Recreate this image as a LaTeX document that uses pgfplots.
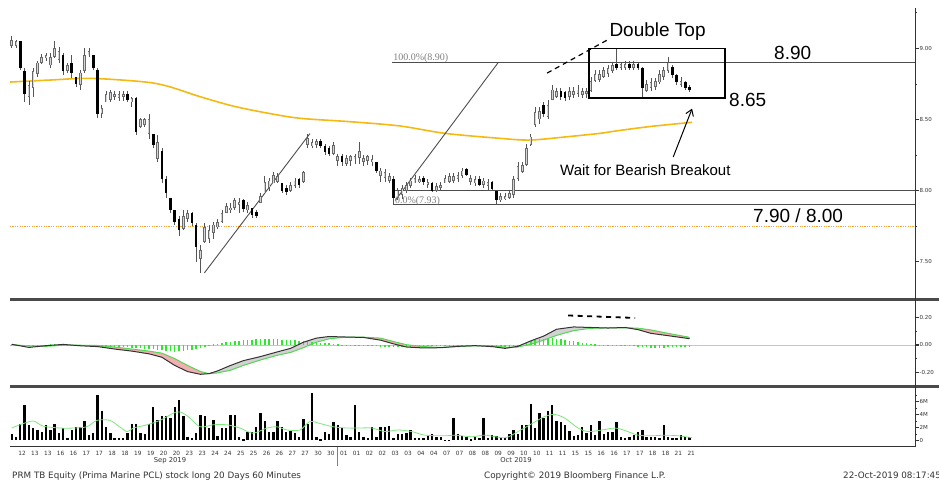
\documentclass[border=0pt]{standalone}
\usepackage{fontspec}
\setmainfont{Liberation Sans}
\newfontfamily\dv{DejaVu Sans}
\newfontfamily\lserif{Liberation Serif}
\usepackage{pgfplots}
\pgfplotsset{compat=1.18}
\usepackage{pgfplotstable}
\usetikzlibrary{arrows.meta}

\definecolor{maorange}{HTML}{F5B914}
\definecolor{dotorange}{HTML}{F2A33A}
\definecolor{upedge}{HTML}{6A6A6A}
\definecolor{upfill}{HTML}{D6D6D6}
\definecolor{wick}{HTML}{555555}
\definecolor{sepgray}{HTML}{4A4A4A}
\definecolor{histgreen}{HTML}{2EE82E}
\definecolor{siggreen}{HTML}{55D655}
\definecolor{vmagreen}{HTML}{7CE67C}
\definecolor{pinkfill}{HTML}{F2AFAF}
\definecolor{grayfill}{HTML}{D2D2D2}
\definecolor{linegray}{HTML}{4D4D4D}
\definecolor{labelc}{HTML}{333333}

\pgfplotstableread{
i o h l c v hist
0 9.02 9.09 9.00 9.06 0.9 0.003
1 9.02 9.06 9.00 9.05 0.55 0.002
2 9.05 9.05 8.85 8.86 2.6 -0.003
3 8.84 8.86 8.62 8.68 5.5 -0.004
4 8.66 8.77 8.60 8.74 2.4 -0.003
5 8.72 8.86 8.66 8.84 1.9 -0.002
6 8.82 8.91 8.80 8.90 1.6 0.002
7 8.90 8.96 8.89 8.94 1.35 0.003
8 8.93 8.97 8.91 8.95 2.4 0.003
9 8.88 8.97 8.86 8.94 1.6 0.004
10 8.94 9.05 8.93 9.00 2.5 0.004
11 8.92 9.01 8.90 8.98 1.1 0.003
12 8.95 8.97 8.81 8.84 1.9 0.003
13 8.84 8.90 8.83 8.88 0.4 0.002
14 8.90 8.95 8.79 8.83 1.6 0.002
15 8.80 8.80 8.73 8.75 2.0 0.001
16 8.74 8.85 8.71 8.83 2.1 0.001
17 8.84 9.00 8.83 8.95 3.0 0.002
18 8.95 9.00 8.94 8.98 0.8 0.001
19 8.95 8.95 8.85 8.86 1.1 -0.003
20 8.85 8.86 8.51 8.54 7.0 -0.006
21 8.54 8.60 8.51 8.58 4.5 -0.008
22 8.62 8.70 8.62 8.68 2.0 -0.010
23 8.64 8.71 8.62 8.69 1.1 -0.012
24 8.66 8.70 8.64 8.68 0.3 -0.014
25 8.65 8.70 8.63 8.68 0.35 -0.015
26 8.66 8.70 8.63 8.68 0.35 -0.016
27 8.68 8.70 8.62 8.64 1.1 -0.018
28 8.62 8.66 8.59 8.65 2.6 -0.020
29 8.65 8.66 8.39 8.41 2.6 -0.023
30 8.45 8.51 8.44 8.50 1.1 -0.025
31 8.46 8.51 8.45 8.50 0.9 -0.027
32 8.40 8.54 8.36 8.50 2.6 -0.030
33 8.40 8.40 8.30 8.32 5.2 -0.033
34 8.22 8.39 8.20 8.34 3.1 -0.036
35 8.28 8.30 8.05 8.08 3.8 -0.040
36 8.08 8.10 7.95 7.98 3.8 -0.044
37 7.95 7.95 7.84 7.86 3.4 -0.047
38 7.86 7.86 7.76 7.78 5.1 -0.048
39 7.80 7.82 7.68 7.72 6.2 -0.046
40 7.73 7.86 7.72 7.82 3.8 -0.043
41 7.80 7.86 7.78 7.84 0.55 -0.039
42 7.84 7.85 7.75 7.77 0.4 -0.034
43 7.76 7.77 7.50 7.60 1.1 -0.028
44 7.52 7.62 7.42 7.58 4.0 -0.020
45 7.64 7.77 7.63 7.74 3.7 -0.012
46 7.66 7.76 7.63 7.72 1.9 -0.004
47 7.70 7.78 7.66 7.76 3.1 0.004
48 7.74 7.80 7.73 7.78 0.7 0.010
49 7.78 7.86 7.77 7.84 1.9 0.015
50 7.84 7.91 7.84 7.89 1.9 0.020
51 7.86 7.91 7.84 7.88 4.0 0.024
52 7.88 7.95 7.86 7.93 3.9 0.028
53 7.90 7.95 7.84 7.92 0.55 0.031
54 7.93 7.94 7.85 7.87 0.2 0.034
55 7.86 7.92 7.84 7.90 1.35 0.036
56 7.88 7.88 7.81 7.83 1.35 0.038
57 7.85 7.86 7.81 7.82 2.0 0.040
58 7.91 7.98 7.91 7.96 4.2 0.041
59 7.98 8.10 7.98 8.06 3.0 0.042
60 8.02 8.09 8.00 8.07 1.35 0.042
61 8.05 8.13 8.05 8.11 1.35 0.041
62 8.06 8.12 8.05 8.10 3.0 0.040
63 8.05 8.05 7.98 8.00 2.0 0.039
64 8.02 8.04 7.97 7.99 1.35 0.037
65 8.00 8.06 7.99 8.04 1.45 0.035
66 8.03 8.09 8.02 8.07 1.1 0.033
67 8.08 8.09 8.02 8.04 0.55 0.031
68 8.06 8.14 8.05 8.13 3.3 0.029
69 8.32 8.40 8.30 8.37 2.6 0.027
70 8.31 8.36 8.30 8.34 7.4 0.024
71 8.32 8.36 8.30 8.35 0.55 0.021
72 8.35 8.36 8.30 8.31 0.2 0.018
73 8.31 8.33 8.25 8.27 1.35 0.014
74 8.30 8.31 8.24 8.26 0.9 0.011
75 8.26 8.34 8.25 8.32 2.8 0.008
76 8.21 8.26 8.17 8.24 2.4 0.005
77 8.24 8.26 8.17 8.20 1.9 0.003
78 8.19 8.25 8.17 8.23 0.8 0.002
79 8.21 8.25 8.17 8.24 0.55 0.001
80 8.22 8.26 8.19 8.24 5.5 0.002
81 8.23 8.34 8.19 8.28 1.35 0.001
82 8.20 8.25 8.17 8.23 0.55 -0.001
83 8.21 8.25 8.18 8.24 0.4 -0.002
84 8.20 8.25 8.17 8.22 2.1 -0.004
85 8.20 8.20 8.12 8.14 0.55 -0.006
86 8.10 8.16 8.06 8.14 2.0 -0.008
87 8.09 8.15 8.06 8.13 2.1 -0.010
88 8.07 8.12 8.05 8.10 2.2 -0.011
89 8.08 8.10 7.90 7.95 0.4 -0.012
90 7.95 8.02 7.93 8.00 0.9 -0.012
91 7.97 8.04 7.94 8.02 0.9 -0.011
92 8.00 8.06 7.98 8.04 1.1 -0.010
93 8.03 8.09 8.02 8.07 1.6 -0.008
94 8.05 8.11 8.05 8.09 0.3 -0.006
95 8.06 8.10 8.05 8.08 0.4 -0.005
96 8.09 8.10 8.04 8.06 0.4 -0.004
97 8.04 8.08 8.02 8.06 0.8 -0.003
98 8.05 8.06 7.99 8.00 0.9 -0.003
99 8.00 8.05 7.99 8.03 0.55 -0.002
100 8.02 8.06 8.00 8.04 0.55 -0.002
101 8.05 8.11 8.05 8.09 0.05 0.002
102 8.06 8.12 8.05 8.10 0.05 0.002
103 8.07 8.12 8.05 8.10 3.4 0.003
104 8.08 8.13 8.06 8.11 0.9 0.003
105 8.10 8.16 8.09 8.14 0.7 0.002
106 8.15 8.16 8.10 8.11 0.55 0.002
107 8.06 8.11 8.04 8.09 0.15 0.001
108 8.05 8.10 8.03 8.08 0.55 -0.002
109 8.08 8.10 8.03 8.04 0.3 -0.003
110 8.04 8.09 8.02 8.07 3.4 -0.004
111 8.03 8.08 8.00 8.06 0.4 -0.006
112 8.06 8.07 8.00 8.01 0.8 -0.007
113 8.00 8.00 7.90 7.93 0.7 -0.009
114 7.93 7.98 7.92 7.96 0.3 -0.010
115 7.94 7.98 7.93 7.96 0.3 -0.010
116 7.95 8.00 7.94 7.98 0.9 -0.008
117 7.97 8.10 7.95 8.08 1.6 -0.004
118 8.08 8.20 8.07 8.17 0.9 0.003
119 8.13 8.20 8.12 8.18 2.4 0.010
120 8.18 8.33 8.17 8.30 2.4 0.018
121 8.32 8.40 8.31 8.38 5.7 0.026
122 8.46 8.59 8.45 8.55 1.9 0.033
123 8.50 8.59 8.47 8.56 4.2 0.040
124 8.60 8.62 8.52 8.54 3.4 0.045
125 8.52 8.64 8.50 8.60 4.5 0.048
126 8.64 8.74 8.64 8.71 5.4 0.048
127 8.66 8.72 8.65 8.70 3.0 0.045
128 8.70 8.72 8.64 8.66 2.9 0.041
129 8.69 8.70 8.63 8.65 2.4 0.036
130 8.66 8.73 8.64 8.70 1.45 0.031
131 8.67 8.73 8.65 8.70 0.7 0.026
132 8.68 8.74 8.66 8.71 0.8 0.021
133 8.67 8.72 8.65 8.70 2.0 0.016
134 8.68 8.72 8.65 8.70 1.1 0.011
135 8.70 8.80 8.69 8.77 2.3 0.007
136 8.77 8.85 8.76 8.82 0.8 0.004
137 8.78 8.85 8.76 8.82 3.0 0.002
138 8.80 8.87 8.79 8.85 0.9 0.001
139 8.82 8.88 8.80 8.86 1.25 0.001
140 8.84 8.90 8.83 8.88 1.35 0.002
141 8.89 9.00 8.85 8.86 2.8 0.002
142 8.86 8.90 8.85 8.89 0.55 0.001
143 8.86 8.91 8.85 8.89 0.4 0.001
144 8.89 8.91 8.85 8.86 0.55 -0.002
145 8.86 8.91 8.85 8.89 0.8 -0.005
146 8.89 8.90 8.85 8.86 1.35 -0.009
147 8.86 8.87 8.65 8.72 1.6 -0.013
148 8.70 8.78 8.69 8.75 0.55 -0.017
149 8.72 8.79 8.70 8.76 0.55 -0.019
150 8.73 8.79 8.71 8.77 0.55 -0.020
151 8.76 8.85 8.75 8.82 0.4 -0.020
152 8.80 8.87 8.78 8.85 2.4 -0.019
153 8.84 8.94 8.83 8.90 0.55 -0.018
154 8.87 8.88 8.79 8.81 0.4 -0.017
155 8.81 8.82 8.74 8.76 0.4 -0.016
156 8.74 8.80 8.73 8.77 0.8 -0.015
157 8.76 8.77 8.71 8.72 0.55 -0.014
158 8.73 8.74 8.69 8.71 0.55 -0.013
}\ohlc

\pgfplotstableread{
i m s
0 0.005 0.003
4 -0.018 -0.008
8 -0.005 -0.010
12 0.004 -0.002
16 -0.006 -0.002
20 -0.012 -0.004
24 -0.030 -0.015
28 -0.045 -0.030
32 -0.065 -0.045
35 -0.090 -0.060
38 -0.150 -0.100
41 -0.195 -0.150
44 -0.215 -0.195
46 -0.210 -0.210
48 -0.190 -0.205
51 -0.150 -0.185
54 -0.115 -0.150
58 -0.085 -0.110
62 -0.050 -0.075
65 -0.025 -0.055
68 0.020 -0.020
71 0.050 0.020
74 0.062 0.045
78 0.058 0.058
82 0.055 0.057
86 0.035 0.050
89 0.008 0.025
92 -0.015 0.002
96 -0.022 -0.012
100 -0.020 -0.018
104 -0.010 -0.012
108 -0.005 -0.006
112 -0.012 -0.008
115 -0.025 -0.015
118 -0.010 -0.015
121 0.030 0.005
124 0.065 0.035
127 0.115 0.070
131 0.132 0.105
135 0.128 0.122
139 0.124 0.125
143 0.128 0.126
146 0.112 0.123
149 0.085 0.110
153 0.068 0.085
158 0.046 0.056
}\macdtab

\pgfplotstableread{
i v
0 1.9
1.9 2.4
5 3.0
7.3 2.2
11.3 1.9
14.3 1.9
17.5 2.1
19.9 3.1
22.9 3.1
24.5 2.4
26.9 1.35
28.3 1.9
31.5 2.4
34.6 3.1
38.5 4.4
40.9 3.8
43.9 2.1
46.9 2.4
50.2 2.4
53.2 1.9
56.2 1.1
59.5 1.9
61.8 2.1
64.2 1.6
67.2 1.6
69.5 2.9
71.9 2.6
74.9 2.1
78.2 1.9
80.7 1.9
84 1.9
87 1.35
90 1.6
93.3 1.35
96.3 0.8
101 0.7
103.3 0.8
107.3 0.55
110.3 0.8
115 0.4
118 1.35
121.3 2.6
124.3 3.7
126.6 4.0
129 3.4
132 1.9
134.3 1.35
137.6 1.6
140.6 1.9
143 1.5
146 0.8
149.3 0.7
152.3 0.8
155.3 0.7
158.6 0.4
}\vmatab

\pgfplotstableread{
i p
-0.4 8.763
8.9 8.777
18.3 8.789
30.6 8.765
36.2 8.735
43.9 8.660
51.6 8.594
59.5 8.545
67.2 8.508
78.9 8.484
90.5 8.454
101 8.402
113.8 8.367
120.8 8.355
129.4 8.378
137.1 8.402
141.1 8.420
148.8 8.450
158.6 8.480
}\matab

\begin{document}
\begin{tikzpicture}
\path[use as bounding box] (0,0) rectangle (939pt,483pt);
\pgfplotsset{
  panel/.style={
    scale only axis, width=905pt, xmin=-0.4, xmax=210.56,
    axis line style={draw=none},
    axis y line*=right, axis x line*=bottom,
    xtick=\empty, clip=true,
    tick align=outside,
    major tick length=3.5pt, minor tick length=2pt,
    major tick style={draw=labelc, line width=1.3pt},
    minor tick style={draw=labelc, line width=0.6pt},
    yticklabel style={font=\dv\fontsize{5.5}{6}\selectfont, text=labelc, inner sep=1pt},
  },
  candle/.style={draw=none, mark=none, forget plot,
    error bars/.cd, y dir=both, y explicit, error mark=none},
}

% ---------------- price panel ----------------
\begin{axis}[panel, at={(10pt,186pt)}, anchor=south west, height=297pt,
  ymin=7.251, ymax=9.340,
  ytick={7.5,8,8.5,9}, yticklabels={7.50,8.00,8.50,9.00},
  minor ytick={7.75,8.25,8.75,9.25}]
\addplot[maorange, line width=1.6pt, smooth] table[x=i,y=p]{\matab};
\addplot[dotorange, line width=1.1pt, dash pattern=on 1.2pt off 1.2pt] coordinates {(-0.4,7.75) (210.56,7.75)};
\addplot[linegray, line width=0.9pt] coordinates {(88.6,8.90) (210.56,8.90)};
\addplot[linegray, line width=0.9pt] coordinates {(88.9,8.00) (210.56,8.00)};
\addplot[linegray, line width=0.9pt] coordinates {(88.9,7.90) (210.56,7.90)};
\addplot[linegray, line width=0.9pt] coordinates {(44.9,7.42) (69.5,8.40)};
\addplot[linegray, line width=0.9pt] coordinates {(89.4,7.93) (113.4,8.90)};
% wicks
\addplot[candle, error bar style={draw=wick, line width=0.7pt}]
  table[x=i, y expr={(\thisrow{h}+\thisrow{l})/2}, y error expr={(\thisrow{h}-\thisrow{l})/2}]{\ohlc};
% up bodies
\addplot[candle, error bar style={draw=upedge, line width=2.6pt}]
  table[x=i, y expr={\thisrow{c}>=\thisrow{o} ? (\thisrow{o}+\thisrow{c})/2 : nan}, y error expr={max(abs(\thisrow{c}-\thisrow{o})/2,0.004)}]{\ohlc};
\addplot[candle, error bar style={draw=upfill, line width=1.0pt}]
  table[x=i, y expr={\thisrow{c}>=\thisrow{o} ? (\thisrow{o}+\thisrow{c})/2 : nan}, y error expr={max(abs(\thisrow{c}-\thisrow{o})/2-0.006,0)}]{\ohlc};
% down bodies
\addplot[candle, error bar style={draw=black, line width=2.6pt}]
  table[x=i, y expr={\thisrow{c}<\thisrow{o} ? (\thisrow{o}+\thisrow{c})/2 : nan}, y error expr={max(abs(\thisrow{c}-\thisrow{o})/2,0.004)}]{\ohlc};
% annotations
\draw[black, line width=1.3pt] (axis cs:134.6,8.65) rectangle (axis cs:166.3,9.00);
\draw[black, line width=1.2pt, dash pattern=on 5pt off 4pt] (axis cs:124.8,8.826) -- (axis cs:138.8,9.058);
\draw[black, line width=1pt, -{Straight Barb[length=6pt,width=8pt]}] (axis cs:154.2,8.236) -- (axis cs:158.6,8.576);
\node[anchor=base west, inner sep=0pt, font=\fontsize{19}{22}\selectfont] at (axis cs:139.3,9.082) {Double Top};
\node[anchor=base west, inner sep=0pt, font=\fontsize{19}{22}\selectfont] at (axis cs:177.7,8.923) {8.90};
\node[anchor=base west, inner sep=0pt, font=\fontsize{19}{22}\selectfont] at (axis cs:167.2,8.594) {8.65};
\node[anchor=base west, inner sep=0pt, font=\fontsize{19}{22}\selectfont] at (axis cs:172.8,7.774) {7.90 / 8.00};
\node[anchor=base west, inner sep=0pt, font=\fontsize{15}{18}\selectfont] at (axis cs:127.8,8.109) {Wait for Bearish Breakout};
\node[anchor=base west, inner sep=0pt, text=gray, font=\lserif\fontsize{10}{12}\selectfont] at (axis cs:88.9,8.911) {100.0\%(8.90)};
\node[anchor=base west, inner sep=0pt, text=gray, font=\lserif\fontsize{10}{12}\selectfont] at (axis cs:89.3,7.912) {0.0\%(7.93)};
\end{axis}

% ---------------- MACD panel ----------------
\begin{axis}[panel, at={(10pt,99pt)}, anchor=south west, height=83pt,
  ymin=-0.286, ymax=0.322,
  ytick={-0.2,0,0.2}, yticklabels={-0.20,0.00,0.20},
  minor ytick={-0.1,0.1}]
\addplot[gray!45, line width=0.6pt] coordinates {(-0.4,0) (210.56,0)};
% fills between MACD and signal
\addplot[fill=pinkfill, draw=none] coordinates {(16,-0.006) (20,-0.012) (24,-0.030) (28,-0.045) (32,-0.065) (35,-0.090) (38,-0.150) (41,-0.195) (44,-0.215) (46,-0.210) (44,-0.195) (41,-0.150) (38,-0.100) (35,-0.060) (32,-0.045) (28,-0.030) (24,-0.015) (20,-0.004) (16,-0.002)};
\addplot[fill=grayfill, draw=none] coordinates {(46,-0.210) (48,-0.190) (51,-0.150) (54,-0.115) (58,-0.085) (62,-0.050) (65,-0.025) (68,0.020) (71,0.050) (74,0.062) (78,0.058) (74,0.045) (71,0.020) (68,-0.020) (65,-0.055) (62,-0.075) (58,-0.110) (54,-0.150) (51,-0.185) (48,-0.205)};
\addplot[fill=pinkfill, draw=none] coordinates {(78,0.058) (82,0.055) (86,0.035) (89,0.008) (92,-0.015) (96,-0.022) (100,-0.020) (104,-0.010) (100,-0.018) (96,-0.012) (92,0.002) (89,0.025) (86,0.050) (82,0.057)};
\addplot[fill=pinkfill, draw=none] coordinates {(108,-0.005) (112,-0.012) (115,-0.025) (118,-0.010) (118,-0.015) (115,-0.015) (112,-0.008) (108,-0.006)};
\addplot[fill=grayfill, draw=none] coordinates {(118,-0.010) (121,0.030) (124,0.065) (127,0.115) (131,0.132) (135,0.128) (139,0.124) (143,0.128) (139,0.125) (135,0.122) (131,0.105) (127,0.070) (124,0.035) (121,0.005) (118,-0.015)};
\addplot[fill=pinkfill, draw=none] coordinates {(143,0.128) (146,0.112) (149,0.085) (153,0.068) (158,0.046) (158,0.056) (153,0.085) (149,0.110) (146,0.123) (143,0.126)};
% histogram
\addplot[candle, error bar style={draw=histgreen, line width=1.5pt}]
  table[x=i, y expr={\thisrow{hist}/2}, y error expr={abs(\thisrow{hist})/2}]{\ohlc};
\addplot[siggreen, line width=1pt] table[x=i,y=s]{\macdtab};
\addplot[black!80, line width=1pt] table[x=i,y=m]{\macdtab};
\addplot[black, line width=1.8pt, dash pattern=on 5pt off 4.5pt] coordinates {(129.7,0.216) (145.3,0.198)};
\end{axis}

% ---------------- volume panel ----------------
\begin{axis}[panel, at={(10pt,37pt)}, anchor=south west, height=58pt,
  ymin=-0.884, ymax=8.109,
  ytick={0,2,4,6}, yticklabels={0,2M,4M,6M}, minor ytick={1,3,5,7},
  xtick={2.4,5.4,...,158.5},
  xticklabels={12,13,13,16,16,17,17,18,18,19,19,20,20,23,23,24,24,25,25,26,26,27,27,30,30,01,01,02,02,03,03,04,04,07,07,08,08,09,09,10,10,11,11,15,15,16,16,17,17,18,18,21,21},
  xtick style={draw=none},
  xticklabel style={font=\dv\fontsize{5.8}{6}\selectfont, text=labelc, inner sep=1.5pt}]
\addplot[candle, error bar style={draw=black, line width=2.4pt}]
  table[x=i, y expr={\thisrow{v}/2}, y error expr={\thisrow{v}/2}]{\ohlc};
\addplot[vmagreen, line width=0.8pt, smooth] table[x=i,y=v]{\vmatab};
\end{axis}

% frame lines
\draw[sepgray, line width=3pt] (10pt,183.5pt) -- (939pt,183.5pt);
\draw[sepgray, line width=3pt] (10pt,97pt) -- (939pt,97pt);
\draw[labelc, line width=0.8pt] (10pt,37pt) -- (915pt,37pt);
\draw[labelc, line width=0.8pt] (915pt,475pt) -- (915pt,36pt);
\draw[gray, line width=1pt] (337pt,36pt) -- (337pt,17pt);

% footer texts
\node[anchor=base, inner sep=0pt, text=labelc, font=\dv\fontsize{6.8}{8}\selectfont] at (170pt,20.3pt) {Sep 2019};
\node[anchor=base, inner sep=0pt, text=labelc, font=\dv\fontsize{6.8}{8}\selectfont] at (516pt,20.3pt) {Oct 2019};
\node[anchor=base west, inner sep=0pt, text=labelc, font=\dv\fontsize{8.8}{10}\selectfont] at (12pt,5pt) {PRM TB Equity (Prima Marine PCL) stock long 20 Days 60 Minutes};
\node[anchor=base west, inner sep=0pt, text=labelc, font=\dv\fontsize{8.8}{10}\selectfont] at (484pt,5pt) {Copyright© 2019 Bloomberg Finance L.P.};
\node[anchor=base west, inner sep=0pt, text=labelc, font=\dv\fontsize{8.8}{10}\selectfont] at (843pt,5pt) {22-Oct-2019 08:17:45};
\end{tikzpicture}
\end{document}
